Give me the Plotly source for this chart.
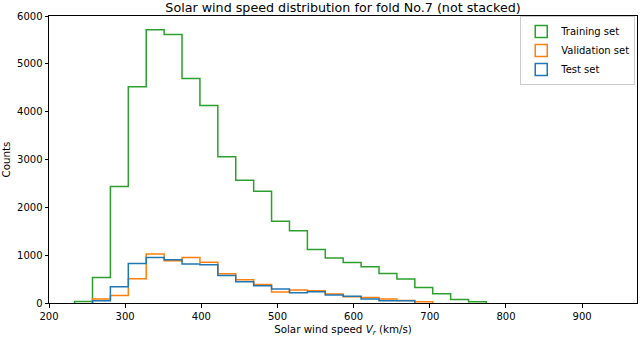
import numpy as np
import plotly.graph_objects as go

# Histogram bins (30 equal-width bins over the speed range, km/s)
SPEED_MIN = 233.6
SPEED_MAX = 938.9
N_BINS = 30

# Counts per bin
TRAIN_COUNTS = [30, 535, 2433, 4520, 5710, 5612, 4694, 4131, 3059, 2566,
                2337, 1711, 1508, 1118, 939, 847, 757, 618, 501, 326,
                194, 75, 27, 0, 0, 0, 0, 0, 0, 0]
VAL_COUNTS = [0, 83, 159, 507, 1022, 883, 951, 850, 611, 486,
              388, 229, 271, 257, 190, 132, 117, 83, 50, 27,
              0, 0, 0, 0, 0, 0, 0, 0, 0, 0]
TEST_COUNTS = [0, 48, 340, 826, 951, 903, 814, 800, 576, 444,
               361, 292, 215, 236, 165, 140, 83, 48, 46, 0,
               0, 0, 0, 0, 0, 0, 0, 0, 0, 0]

SERIES = [
    ("Training set", TRAIN_COUNTS, "#2ca02c"),
    ("Validation set", VAL_COUNTS, "#ff7f0e"),
    ("Test set", TEST_COUNTS, "#1f77b4"),
]

X_TICKS = [200, 300, 400, 500, 600, 700, 800, 900]
Y_TICKS = [0, 1000, 2000, 3000, 4000, 5000, 6000]

FONT = "DejaVu Sans"


def step_outline(counts):
    # matplotlib histtype="step" style outline; empty bins at either end
    # sit under the x-axis spine there, so they are left out of the path
    edges = np.linspace(SPEED_MIN, SPEED_MAX, N_BINS + 1)
    nz = np.nonzero(counts)[0]
    lo, hi = nz[0], nz[-1] + 1
    xs = [edges[lo]] + list(edges[lo:hi]) + [edges[hi]]
    ys = [0] + list(counts[lo:hi]) + [0]
    return xs, ys


fig = go.Figure()
for name, counts, color in SERIES:
    xs, ys = step_outline(counts)
    fig.add_trace(
        go.Scatter(
            x=xs,
            y=ys,
            mode="lines",
            line={"color": color, "width": 1.5, "shape": "hv"},
            name=name,
            legendgroup=name,
            showlegend=False,
            hoverinfo="skip",
        )
    )
    # hollow patch for the legend, like matplotlib's step histogram legend
    fig.add_trace(
        go.Bar(
            x=[None],
            y=[None],
            name=name,
            legendgroup=name,
            marker={"color": "rgba(255,255,255,0)", "line": {"color": color, "width": 1.5}},
            showlegend=True,
        )
    )

axis_common = {
    "showline": True,
    "linecolor": "black",
    "linewidth": 1,
    "mirror": True,
    "ticks": "outside",
    "ticklen": 3.5,
    "tickwidth": 0.8,
    "tickcolor": "black",
    "showgrid": False,
    "zeroline": False,
    "tickfont": {"family": FONT, "size": 10, "color": "black"},
}

fig.update_layout(
    width=640,
    height=337,
    margin={"l": 48, "r": 2, "t": 16, "b": 34},
    paper_bgcolor="white",
    plot_bgcolor="white",
    font={"family": FONT, "color": "black"},
    title={
        "text": "Solar wind speed distribution for fold No.7 (not stacked)",
        "font": {"family": FONT, "size": 12.7, "color": "black"},
        "x": 0.536,
        "xanchor": "center",
        "y": 0.977,
        "yanchor": "middle",
    },
    xaxis={
        **axis_common,
        "range": [200, 972],
        "tickvals": X_TICKS,
        "title": {
            "text": "Solar wind speed <i>V<sub>r</sub></i> (km/s)",
            "font": {"family": FONT, "size": 10.3, "color": "black"},
            "standoff": 5,
        },
    },
    yaxis={
        **axis_common,
        "range": [0, 6000],
        "tickvals": Y_TICKS,
        "title": {
            "text": "Counts",
            "font": {"family": FONT, "size": 10.3, "color": "black"},
            "standoff": 8,
        },
    },
    legend={
        "x": 0.997,
        "xanchor": "right",
        "y": 1.0,
        "yanchor": "top",
        "bgcolor": "white",
        "bordercolor": "#cccccc",
        "borderwidth": 1,
        "font": {"family": FONT, "size": 10, "color": "black"},
        "tracegroupgap": 0,
        "itemwidth": 30,
    },
    showlegend=True,
)

# drop the page's default body margin so the figure sits at the window corner
fig.write_html(
    "out.html",
    config={"displayModeBar": False},
    post_script="document.body.style.margin='0';",
)
